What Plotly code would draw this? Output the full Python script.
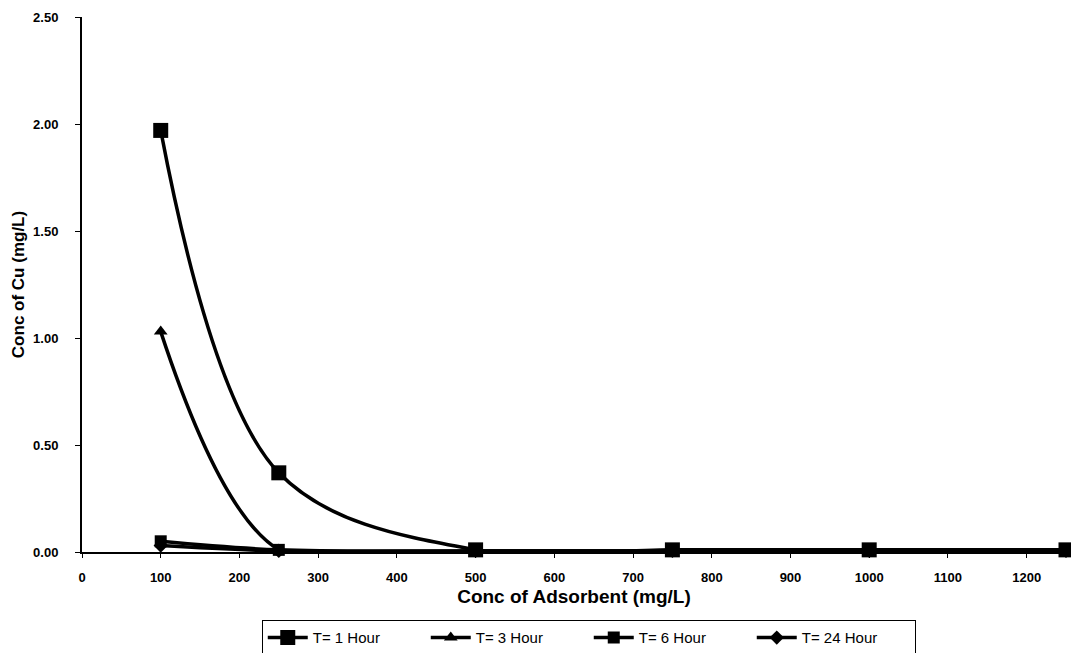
import plotly.graph_objects as go

adsorbent = [100, 250, 500, 750, 1000, 1250]
t1_hour = [1.97, 0.37, 0.01, 0.01, 0.01, 0.01]
t3_hour = [1.03, 0.01, 0.005, 0.005, 0.005, 0.005]
t6_hour = [0.05, 0.01, 0.005, 0.005, 0.005, 0.005]
t24_hour = [0.03, 0.005, 0.005, 0.005, 0.005, 0.005]

series = [
    ("T= 1 Hour", t1_hour, "square", 15),
    ("T= 3 Hour", t3_hour, "triangle-up", 12),
    ("T= 6 Hour", t6_hour, "square", 12),
    ("T= 24 Hour", t24_hour, "diamond", 11),
]

FONT = "Liberation Sans, Arial, sans-serif"

fig = go.Figure()
for name, vals, sym, size in series:
    fig.add_trace(go.Scatter(
        x=adsorbent, y=vals, name=name, mode="lines+markers",
        line=dict(color="black", width=3.5, shape="spline", smoothing=1.0),
        marker=dict(symbol=sym, size=size, color="black"),
        cliponaxis=False,
    ))

fig.update_layout(
    width=1071, height=653,
    margin=dict(l=82, r=5, t=17, b=101, autoexpand=False),
    paper_bgcolor="white", plot_bgcolor="white",
    font=dict(family=FONT, color="black"),
    showlegend=True,
    legend=dict(
        orientation="h", x=0.515, xanchor="center",
        yref="container", y=0.05, yanchor="top",
        font=dict(family=FONT, size=15, color="black"),
        bordercolor="black", borderwidth=1, bgcolor="white",
        itemwidth=40, entrywidth=108, entrywidthmode="pixels",
    ),
    xaxis=dict(
        range=[0, 1250], tickmode="array",
        tickvals=list(range(0, 1300, 100)),
        ticktext=[str(v) for v in range(0, 1300, 100)],
        showgrid=False, zeroline=False, showline=True, linecolor="black", linewidth=2,
        ticks="outside", ticklen=4, tickcolor="black", ticklabelstandoff=8,
        tickfont=dict(family=FONT, size=13, weight="bold"),
        automargin=False,
        title=dict(text="Conc of Adsorbent (mg/L)", font=dict(family=FONT, size=19, weight="bold"), standoff=6),
    ),
    yaxis=dict(
        range=[0, 2.5], tickmode="array",
        tickvals=[0, 0.5, 1.0, 1.5, 2.0, 2.5],
        ticktext=["0.00", "0.50", "1.00", "1.50", "2.00", "2.50"],
        showgrid=False, zeroline=False, showline=True, linecolor="black", linewidth=2,
        ticks="outside", ticklen=5, tickcolor="black", ticklabelstandoff=14,
        tickfont=dict(family=FONT, size=13, weight="bold"),
        automargin=False,
        title=dict(text="Conc of Cu (mg/L)", font=dict(family=FONT, size=17, weight="bold"), standoff=4),
    ),
)

fig.write_html("out.html")
